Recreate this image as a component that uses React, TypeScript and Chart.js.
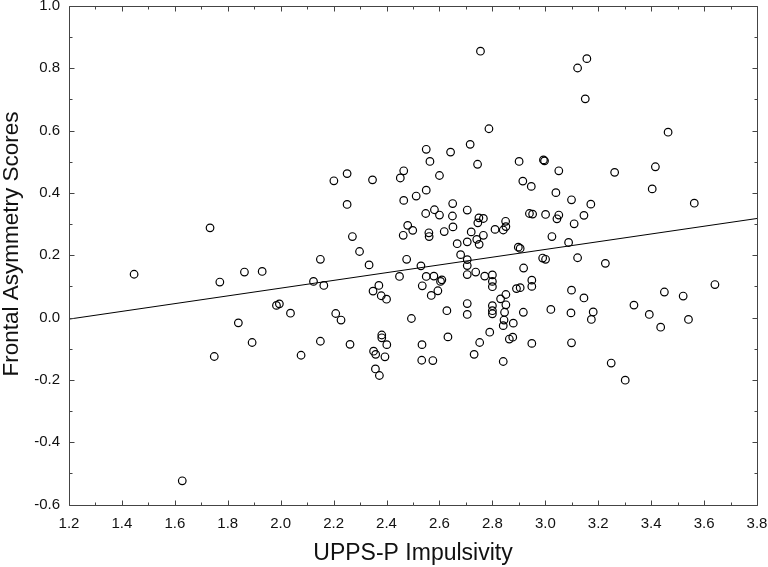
import React, { useEffect, useRef } from "react";
import { Chart, registerables } from "chart.js";

Chart.register(...registerables);

const impulsivity: number[] = [
  1.446, 1.628, 1.733, 1.749, 1.770, 1.840, 1.863, 1.892, 1.930, 1.984,
  1.995, 2.037, 2.077, 2.124, 2.150, 2.150, 2.163, 2.201, 2.208, 2.228,
  2.251, 2.251, 2.262, 2.271, 2.298, 2.334, 2.347, 2.349, 2.351, 2.359,
  2.358, 2.371, 2.373, 2.380, 2.382, 2.382, 2.394, 2.400, 2.401, 2.449,
  2.452, 2.463, 2.465, 2.465, 2.476, 2.480, 2.494, 2.499, 2.512, 2.530,
  2.533, 2.534, 2.535, 2.548, 2.550, 2.550, 2.550, 2.560, 2.561, 2.564,
  2.569, 2.575, 2.579, 2.581, 2.594, 2.600, 2.600, 2.604, 2.609, 2.618,
  2.628, 2.632, 2.642, 2.649, 2.650, 2.651, 2.667, 2.680, 2.705, 2.705,
  2.705, 2.705, 2.705, 2.705, 2.705, 2.716, 2.720, 2.731, 2.737, 2.741,
  2.744, 2.745, 2.749, 2.750, 2.752, 2.755, 2.766, 2.766, 2.771, 2.787,
  2.790, 2.800, 2.800, 2.800, 2.800, 2.800, 2.800, 2.810, 2.831, 2.841,
  2.841, 2.841, 2.844, 2.846, 2.850, 2.851, 2.851, 2.851, 2.864, 2.877,
  2.879, 2.891, 2.898, 2.905, 2.901, 2.905, 2.915, 2.917, 2.918, 2.940,
  2.947, 2.949, 2.949, 2.949, 2.952, 2.990, 2.993, 2.997, 3.001, 3.001,
  3.021, 3.025, 3.040, 3.044, 3.051, 3.051, 3.088, 3.097, 3.099, 3.099,
  3.099, 3.109, 3.122, 3.122, 3.146, 3.146, 3.151, 3.157, 3.172, 3.174,
  3.181, 3.227, 3.249, 3.262, 3.302, 3.335, 3.393, 3.404, 3.416, 3.436,
  3.450, 3.464, 3.521, 3.541, 3.563, 3.641,
];

const asymmetry: number[] = [
  0.139, -0.524, 0.288, -0.125, 0.114, -0.017, 0.146, -0.080, 0.148, 0.039,
  0.044, 0.014, -0.121, 0.116, 0.187, -0.076, 0.103, 0.439, 0.013, -0.008,
  0.462, 0.363, -0.086, 0.260, 0.212, 0.169, 0.442, 0.085, -0.108, -0.118,
  -0.165, 0.103, -0.186, 0.070, -0.056, -0.065, -0.126, 0.059, -0.087, 0.132,
  0.448, 0.264, 0.471, 0.376, 0.187, 0.296, -0.003, 0.280, 0.390, 0.166,
  -0.137, -0.087, 0.102, 0.334, 0.540, 0.409, 0.132, 0.272, 0.260, 0.501,
  0.071, -0.138, 0.133, 0.346, 0.086, 0.456, 0.329, 0.116, 0.121, 0.276,
  0.022, -0.062, 0.531, 0.326, 0.366, 0.291, 0.237, 0.202, 0.345, 0.243,
  0.186, 0.167, 0.138, 0.045, 0.010, 0.556, 0.275, -0.118, 0.146, 0.251,
  0.492, 0.304, 0.320, 0.235, -0.080, 0.855, 0.318, 0.264, 0.133, 0.606,
  -0.047, 0.137, 0.116, 0.099, 0.038, 0.022, 0.012, 0.283, 0.060, 0.281,
  -0.026, -0.141, -0.008, 0.017, 0.309, 0.292, 0.074, 0.041, -0.069, -0.063,
  -0.018, 0.093, 0.226, 0.222, 0.501, 0.096, 0.438, 0.017, 0.159, 0.334,
  0.421, 0.120, 0.100, -0.083, 0.332, 0.191, 0.506, 0.503, 0.331, 0.187,
  0.026, 0.260, 0.401, 0.317, 0.471, 0.329, 0.241, 0.015, 0.378, 0.088,
  -0.081, 0.301, 0.801, 0.192, 0.328, 0.063, 0.702, 0.831, 0.364, -0.006,
  0.018, 0.174, -0.146, 0.466, -0.201, 0.040, 0.010, 0.413, 0.484, -0.031,
  0.082, 0.595, 0.069, -0.006, 0.367, 0.106,
];

// Regression line read at the two ends of the x range
const fitX: number[] = [1.2, 3.8];
const fitY: number[] = [-0.005, 0.318];

const xTicks: number[] = [1.2, 1.4, 1.6, 1.8, 2.0, 2.2, 2.4, 2.6, 2.8, 3.0, 3.2, 3.4, 3.6, 3.8];
const yTicks: number[] = [-0.6, -0.4, -0.2, 0.0, 0.2, 0.4, 0.6, 0.8, 1.0];

const xTitle = "UPPS-P Impulsivity";
const yTitle = "Frontal Asymmetry Scores";

const FONT = "'Liberation Sans', Arial, sans-serif";
const FRAME = "#444";

const framePlugin = {
  id: "frameTicks",
  afterDraw(chart: any) {
    const { ctx, chartArea } = chart;
    const xs = chart.scales.x;
    const ys = chart.scales.y;
    const L = Math.round(chartArea.left) + 0.5;
    const R = Math.round(chartArea.right) + 0.5;
    const T = Math.round(chartArea.top) + 0.5;
    const B = Math.round(chartArea.bottom) + 0.5;
    ctx.save();
    ctx.strokeStyle = FRAME;
    ctx.lineWidth = 1;
    ctx.beginPath();
    ctx.rect(L, T, R - L, B - T);
    ctx.stroke();
    const major = 5;
    const minor = 3;
    ctx.beginPath();
    for (let i = 0; i < xTicks.length; i++) {
      const v = xTicks[i];
      const px = Math.round(xs.getPixelForValue(v)) + 0.5;
      ctx.moveTo(px, B); ctx.lineTo(px, B - major);
      ctx.moveTo(px, T); ctx.lineTo(px, T + major);
      if (i < xTicks.length - 1) {
        const mv = (v + xTicks[i + 1]) / 2;
        const mx = Math.round(xs.getPixelForValue(mv)) + 0.5;
        ctx.moveTo(mx, B); ctx.lineTo(mx, B - minor);
        ctx.moveTo(mx, T); ctx.lineTo(mx, T + minor);
      }
    }
    for (let i = 0; i < yTicks.length; i++) {
      const v = yTicks[i];
      const py = Math.round(ys.getPixelForValue(v)) + 0.5;
      ctx.moveTo(L, py); ctx.lineTo(L + major, py);
      ctx.moveTo(R, py); ctx.lineTo(R - major, py);
      if (i < yTicks.length - 1) {
        const mv = (v + yTicks[i + 1]) / 2;
        const my = Math.round(ys.getPixelForValue(mv)) + 0.5;
        ctx.moveTo(L, my); ctx.lineTo(L + minor, my);
        ctx.moveTo(R, my); ctx.lineTo(R - minor, my);
      }
    }
    ctx.stroke();

    // y title
    ctx.fillStyle = "#111";
    ctx.font = `22.5px ${FONT}`;
    ctx.textAlign = "center";
    ctx.textBaseline = "middle";
    ctx.translate(12, 244);
    ctx.rotate(-Math.PI / 2);
    ctx.fillText(yTitle, 0, 0);
    ctx.restore();
  },
};

export default function App() {
  const ref = useRef<HTMLCanvasElement | null>(null);

  useEffect(() => {
    if (!ref.current) return;
    const points = impulsivity.map((x, i) => ({ x, y: asymmetry[i] }));
    const fit = fitX.map((x, i) => ({ x, y: fitY[i] }));
    const chart = new Chart(ref.current, {
      type: "scatter",
      data: {
        datasets: [
          {
            type: "line",
            data: fit,
            borderColor: "#000",
            borderWidth: 1,
            pointRadius: 0,
            fill: false,
          } as any,
          {
            data: points,
            pointStyle: "circle",
            pointRadius: 3.8,
            pointBorderWidth: 1.2,
            pointBackgroundColor: "rgba(255,255,255,0)",
            pointBorderColor: "#000",
          } as any,
        ],
      },
      options: {
        responsive: false,
        animation: false,
        layout: { padding: { top: 6, right: 11, left: 0, bottom: 0 } },
        plugins: { legend: { display: false }, tooltip: { enabled: false } },
        scales: {
          x: {
            type: "linear",
            min: 1.2,
            max: 3.8,
            afterBuildTicks: (s: any) => {
              s.ticks = xTicks.map((v) => ({ value: v }));
            },
            afterFit: (s: any) => {
              s.height = 62.5;
              s.paddingLeft = 0;
              s.paddingRight = 0;
            },
            grid: { display: false, drawTicks: false, tickLength: 0 },
            border: { display: false },
            ticks: {
              padding: 10,
              color: "#111",
              font: { family: FONT, size: 15 },
              callback: (v: any) => Number(v).toFixed(1),
              maxRotation: 0,
              autoSkip: false,
            },
            title: {
              display: true,
              text: xTitle,
              color: "#111",
              font: { family: FONT, size: 23 },
              padding: 0,
            },
          },
          y: {
            type: "linear",
            min: -0.6,
            max: 1.0,
            afterBuildTicks: (s: any) => {
              s.ticks = yTicks.map((v) => ({ value: v }));
            },
            afterFit: (s: any) => {
              s.width = 69;
              s.paddingTop = 0;
              s.paddingBottom = 0;
            },
            grid: { display: false, drawTicks: false, tickLength: 0 },
            border: { display: false },
            ticks: {
              padding: 9,
              color: "#111",
              font: { family: FONT, size: 15 },
              callback: (v: any) => Number(v).toFixed(1),
              autoSkip: false,
            },
          },
        },
      },
      plugins: [framePlugin],
    });
    return () => chart.destroy();
  }, []);

  return (
    <div style={{ position: "absolute", left: 0, top: 0, width: 768, height: 567, background: "#fff" }}>
      <canvas ref={ref} width={768} height={567} style={{ display: "block" }} />
    </div>
  );
}
